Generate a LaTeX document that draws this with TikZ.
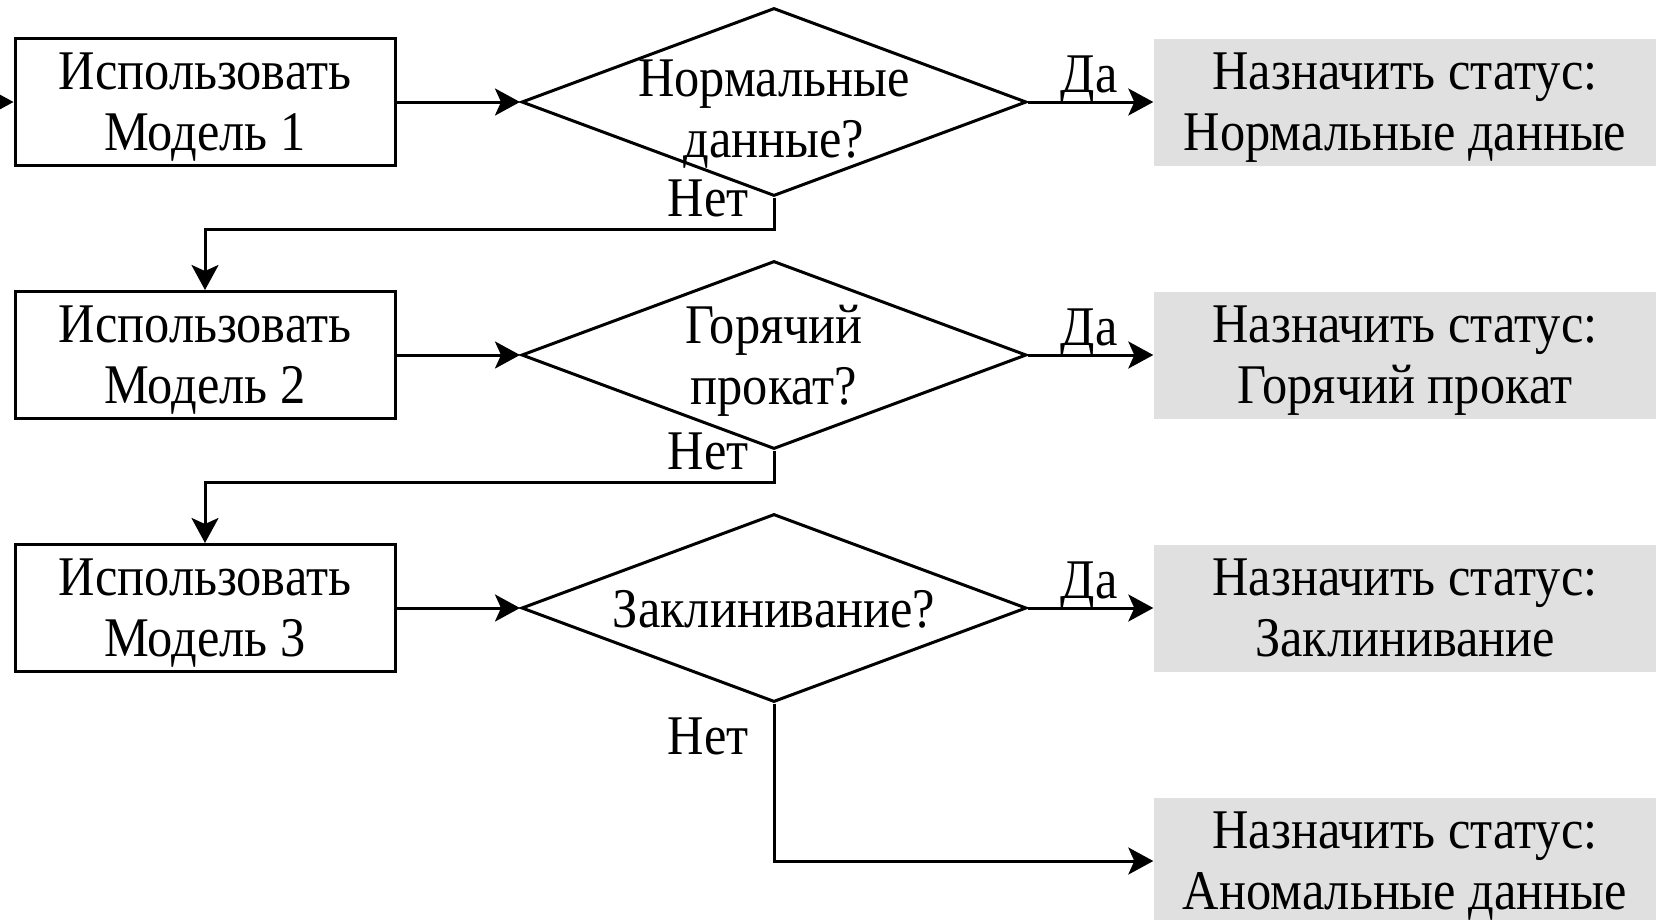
\documentclass[tikz,border=0pt]{standalone}
\usepackage{fontspec}
\setmainfont{Liberation Serif}[FakeStretch=0.9]
\usetikzlibrary{shapes.geometric, arrows.meta, positioning, calc}
\definecolor{statusgray}{RGB}{224,224,224}

\tikzset{
  model/.style={draw, line width=3pt, minimum width=380pt, minimum height=127pt, align=center, inner sep=0pt, text depth=0pt},
  decision/.style={draw, diamond, line width=3pt, minimum width=505pt, minimum height=188pt, inner sep=0pt},
  qtext/.style={align=center, inner sep=0pt, text depth=0pt},
  status/.style={fill=statusgray, minimum width=503pt, minimum height=127pt, align=center, inner sep=0pt, text depth=0pt},
  arr/.style={line width=3pt, -{Stealth[length=25pt,width=27pt,inset=6pt]}},
  lbl/.style={inner sep=0pt},
}

\begin{document}
\begin{tikzpicture}[x=1pt, y=-1pt, font=\fontsize{56}{61}\selectfont]
    \useasboundingbox (0,0) rectangle (1656,919);

    % Draw the models
    \node[model] (m1) at (205,102) {Использовать\\Модель 1};
    \node[model] (m2) at (205,355) {Использовать\\Модель 2};
    \node[model] (m3) at (205,608) {Использовать\\Модель 3};

    % Draw the decisions
    \node[decision] (q1) at (774,102) {};
    \node[qtext] (q1t) at ($(q1)+(0,7)$) {Нормальные\\данные?};
    \node[decision] (q2) at (774,355) {};
    \node[qtext] (q2t) at (q2) {Горячий\\прокат?};
    \node[decision] (q3) at (774,608) {};
    \node[qtext] (q3t) at ($(q3)+(0,1)$) {Заклинивание?};

    % Draw the statuses
    \node[status] (s1) at (1405,102) {Назначить статус:\\Нормальные данные};
    \node[status] (s2) at (1405,355) {Назначить статус:\\Горячий прокат};
    \node[status] (s3) at (1405,608) {Назначить статус:\\Заклинивание};
    \node[status] (s4) at (1405,861) {Назначить статус:\\Аномальные данные};

    % Draw the arrows
    \coordinate (start) at (-30,102);
    \draw[arr] (start) -- (m1.west);
    \draw[arr] (m1.east) -- (q1.west);
    \draw[arr] (m2.east) -- (q2.west);
    \draw[arr] (m3.east) -- (q3.west);
    \draw[arr] (q1.east) -- (s1.west);
    \draw[arr] (q2.east) -- (s2.west);
    \draw[arr] (q3.east) -- (s3.west);
    \draw[arr] (q1.south) -- ++(0,32) -| (m2.north);
    \draw[arr] (q2.south) -- ++(0,32) -| (m3.north);
    \draw[arr] (q3.south) |- (s4.west);

    % Label the branches
    \node[lbl] (yes1) at (1089,80) {Да};
    \node[lbl] (yes2) at (1089,333) {Да};
    \node[lbl] (yes3) at (1089,586) {Да};
    \node[lbl] (no1) at (708,198) {Нет};
    \node[lbl] (no2) at (708,451) {Нет};
    \node[lbl] (no3) at (708,736) {Нет};
\end{tikzpicture}
\end{document}
